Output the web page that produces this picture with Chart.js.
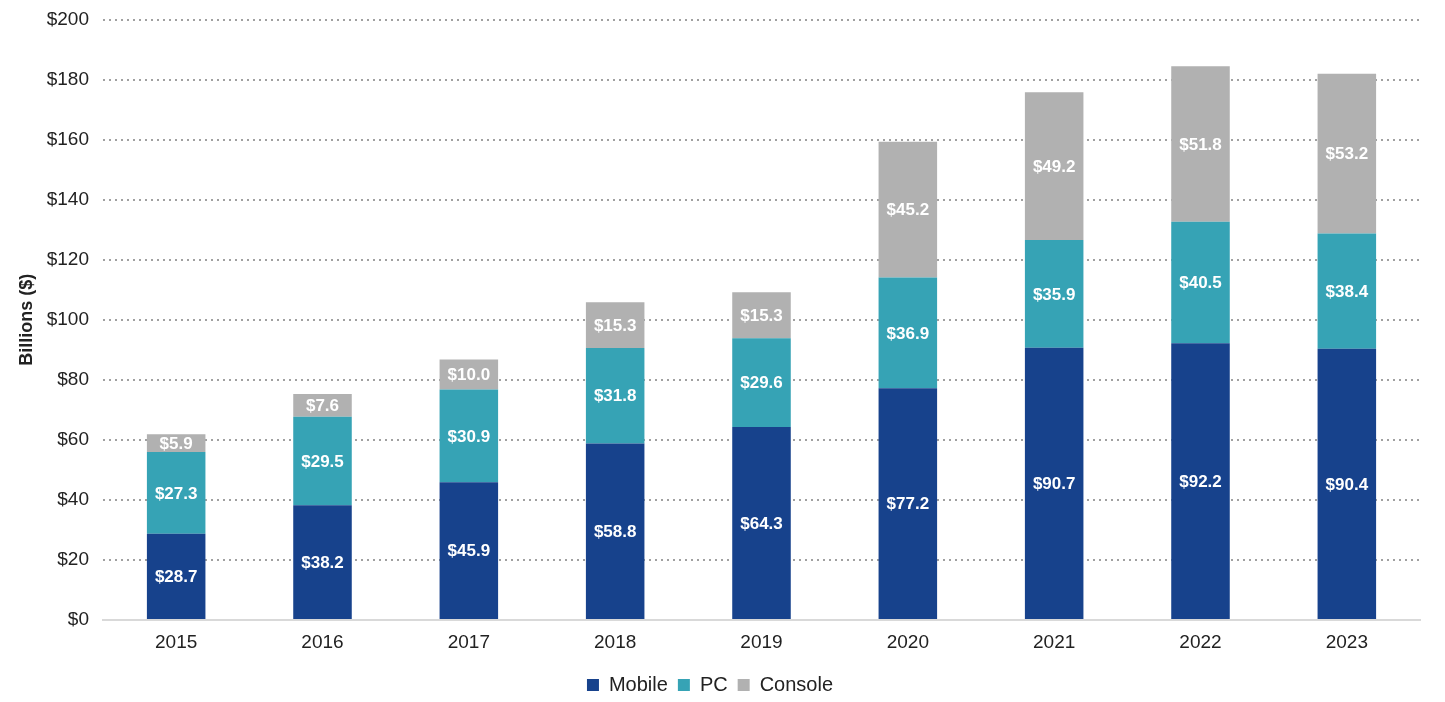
<!DOCTYPE html>
<html><head><meta charset="utf-8">
<script src="https://cdn.jsdelivr.net/npm/chart.js@4"></script>
<style>html,body{margin:0;padding:0;background:#fff}#wrap{width:1445px;height:702px}</style>
</head><body><div id="wrap"><canvas id="c" width="1445" height="702"></canvas></div>
<script>
const years = ['2015','2016','2017','2018','2019','2020','2021','2022','2023'];
const mobile = [28.7,38.2,45.9,58.8,64.3,77.2,90.7,92.2,90.4];
const pc = [27.3,29.5,30.9,31.8,29.6,36.9,35.9,40.5,38.4];
const consoleVals = [5.9,7.6,10.0,15.3,15.3,45.2,49.2,51.8,53.2];
const yTicks = [0,20,40,60,80,100,120,140,160,180,200];

const FONT = 'Arial, "Liberation Sans", sans-serif';
const labelPlugin = {
  id:'segLabels',
  afterDatasetsDraw(chart){
    const ctx = chart.ctx;
    ctx.save();
    ctx.font = 'bold 17px ' + FONT;
    ctx.fillStyle = '#ffffff';
    ctx.textAlign = 'center';
    ctx.textBaseline = 'middle';
    chart.data.datasets.forEach((ds,i)=>{
      const meta = chart.getDatasetMeta(i);
      meta.data.forEach((el,j)=>{
        const v = ds.data[j];
        ctx.fillText('$' + v.toFixed(1), el.x, (el.y + el.base)/2 + 1);
      });
    });
    ctx.restore();
  }
};

new Chart(document.getElementById('c'), {
  type:'bar',
  data:{
    labels: years,
    datasets:[
      {label:'Mobile', data:mobile, backgroundColor:'#17428C'},
      {label:'PC', data:pc, backgroundColor:'#36A3B5'},
      {label:'Console', data:consoleVals, backgroundColor:'#B1B1B1'}
    ]
  },
  options:{
    responsive:false,
    animation:false,
    layout:{padding:{top:4,right:25,left:0,bottom:-3}},
    datasets:{bar:{barPercentage:0.4, categoryPercentage:1.0}},
    plugins:{
      legend:{position:'bottom', labels:{boxWidth:12, boxHeight:12, padding:10, color:'#222', font:{family:FONT, size:20}}},
      tooltip:{enabled:false}
    },
    scales:{
      x:{stacked:true,
        grid:{display:false},
        border:{display:true, color:'#d9d9d9', width:2},
        ticks:{color:'#222', font:{family:FONT, size:19}, padding:3},
        afterFit(s){ s.height = 45; }
      },
      y:{stacked:true, min:0, max:200,
        afterBuildTicks(s){ s.ticks = yTicks.map(v=>({value:v})); },
        grid:{color:(c)=> c.tick && c.tick.value===0 ? 'rgba(0,0,0,0)' : '#a0a0a0', lineWidth:2, drawTicks:false},
        border:{display:false, dash:[2,4]},
        ticks:{color:'#222', font:{family:FONT, size:19, lineHeight:0.6}, padding:14, callback:(v)=>'$'+v},
        title:{display:true, text:'Billions ($)', color:'#222', font:{family:FONT, size:18, weight:'bold'}, padding:{top:16,bottom:4}},
        afterFit(s){ s.width = 103; }
      }
    }
  },
  plugins:[labelPlugin]
});
</script></body></html>
